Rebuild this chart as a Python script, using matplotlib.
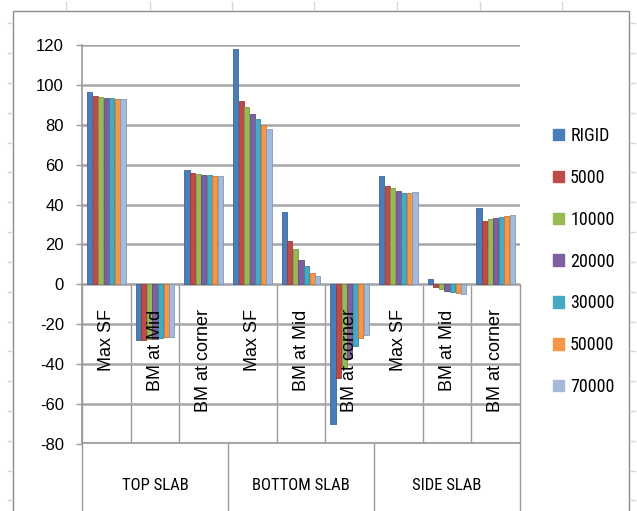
import matplotlib
matplotlib.use('Agg')
import matplotlib.pyplot as plt
from matplotlib import font_manager
from matplotlib.patches import Patch, Rectangle
from matplotlib.lines import Line2D
import numpy as np

# ----------------------------------------------------
# data
# ----------------------------------------------------
groups = ['TOP SLAB', 'BOTTOM SLAB', 'SIDE SLAB']
categories = ['Max SF', 'BM at Mid', 'BM at corner'] * 3
series_names = ['RIGID', '5000', '10000', '20000', '30000', '50000', '70000']

rigid = [96.5, -28.0, 57.5, 118.0, 36.5, -70.0, 54.5, 2.5, 38.5]
k5000 = [94.5, -28.0, 56.0, 92.0, 22.0, -47.0, 49.5, -1.5, 32.0]
k10000 = [94.0, -27.5, 55.5, 89.0, 17.5, -42.0, 48.5, -2.5, 33.0]
k20000 = [93.5, -27.5, 55.0, 85.5, 12.0, -37.0, 47.0, -3.5, 33.5]
k30000 = [93.5, -27.0, 54.8, 83.0, 9.0, -31.0, 46.0, -4.0, 34.0]
k50000 = [93.0, -26.5, 54.5, 80.0, 5.5, -27.0, 46.0, -4.5, 34.5]
k70000 = [93.0, -26.5, 54.5, 78.0, 4.0, -25.5, 46.5, -5.0, 35.0]

yticks = [-80, -60, -40, -20, 0, 20, 40, 60, 80, 100, 120]

COLORS = ['#4a7ebb', '#be4b48', '#98b954', '#7d60a0', '#46aac5', '#f79646', '#a5b9d9']
EDGES = ['#3a6598', '#9a3a38', '#7a9642', '#634b80', '#35879d', '#c87632', '#8197bb']

GRID = '#a6a6a6'
LINE = '#9a9a9a'

# narrow (Calibri-like) font if one is installed, else plain Arial-like
_names = {f.name for f in font_manager.fontManager.ttflist}
_narrow = [f for f in ['Liberation Sans Narrow', 'Roboto Condensed',
                       'Open Sans Condensed'] if f in _names]
if _narrow:
    NARROW, n_scale = [_narrow[0], 'DejaVu Sans'], 1.0
else:
    NARROW, n_scale = ['Liberation Sans', 'DejaVu Sans'], 0.86
ARIAL = ['Liberation Sans', 'DejaVu Sans']

W, H = 637, 511
fig = plt.figure(figsize=(W / 100, H / 100), dpi=100)
fig.patch.set_facecolor('white')

# plot area in pixels
x0, x1 = 82, 520
y_top, y_bot = 45, 444
ax = fig.add_axes([x0 / W, 1 - y_bot / H, (x1 - x0) / W, (y_bot - y_top) / H])

all_series = [rigid, k5000, k10000, k20000, k30000, k50000, k70000]
n = len(series_names)
x = np.arange(len(categories)) + 0.5
width = 0.8 / n
for i, (vals, c, e) in enumerate(zip(all_series, COLORS, EDGES)):
    ax.bar(x - 0.4 + width * (i + 0.5), vals, width * 0.92, color=c,
           edgecolor=e, linewidth=0.6, zorder=3)

ax.set_xlim(0, len(categories))
ax.set_ylim(-80, 120)
ax.set_yticks(yticks)
ax.set_yticklabels([str(v) for v in yticks], family=ARIAL, fontsize=12)
ax.set_xticks([])
ax.tick_params(axis='y', direction='out', length=4, width=1, color=LINE, pad=9)
ax.grid(True, axis='y', color=GRID, linewidth=1.8, zorder=0)

for s in ['top', 'right', 'bottom']:
    ax.spines[s].set_visible(False)
ax.spines['left'].set_color(LINE)
ax.spines['left'].set_linewidth(1.2)

# floor lines
ax.axhline(-80, color=GRID, linewidth=3, zorder=1)
ax.axhline(0, color=LINE, linewidth=1, zorder=1)

# category table lines
for k in range(1, len(categories)):
    if k % 3 == 0:
        ax.plot([k, k], [0, -0.17], color=LINE, linewidth=1, zorder=1,
                transform=ax.get_xaxis_transform(), clip_on=False)
    else:
        ax.plot([k, k], [0, -80], color=LINE, linewidth=1, zorder=1)
for k in [0, len(categories)]:
    ax.plot([k, k], [0.4, -0.17], color=LINE, linewidth=1, zorder=1,
            transform=ax.get_xaxis_transform(), clip_on=False)

# rotated category labels
for xi, lab in zip(x, categories):
    ax.text(xi, -12.5, lab, rotation=90, ha='center', va='top',
            family=ARIAL, fontsize=13, zorder=5)

# group labels
for g, lab in enumerate(groups):
    ax.text(g * 3 + 1.5, -0.105, lab, ha='center', va='center',
            family=NARROW, fontsize=12 * n_scale,
            transform=ax.get_xaxis_transform())

# legend
handles = [Patch(facecolor=c, edgecolor=c) for c in COLORS]
leg = fig.legend(handles, series_names, loc='upper left',
                 bbox_to_anchor=(553 / W, 1 - 127 / H), frameon=False,
                 borderpad=0, borderaxespad=0, handlelength=0.6 / n_scale,
                 handleheight=0.6 / n_scale, handletextpad=0.35,
                 labelspacing=1.32 / n_scale,
                 prop={'family': NARROW, 'size': 13 * n_scale})

# chart area frame
fig.patches.append(Rectangle((13 / W, -0.05), (629 - 13) / W, 1.05 - 11 / H,
                             transform=fig.transFigure, fill=False,
                             edgecolor='#8c8c8c', linewidth=1))

# faint worksheet marks around the chart
mark = '#cfd6de'
for px in [66, 150, 232, 314, 397, 480, 562]:
    fig.add_artist(Line2D([px / W, px / W], [1 - 2 / H, 1 - 10 / H],
                          color=mark, linewidth=1, transform=fig.transFigure))
for k in range(17):
    py = 23.5 + 29.8 * k
    fig.add_artist(Line2D([8 / W, 12 / W], [1 - py / H, 1 - py / H],
                          color=mark, linewidth=1, transform=fig.transFigure))
    fig.add_artist(Line2D([630 / W, 635 / W], [1 - py / H, 1 - py / H],
                          color=mark, linewidth=1, transform=fig.transFigure))

fig.savefig('out.png', dpi=100)
